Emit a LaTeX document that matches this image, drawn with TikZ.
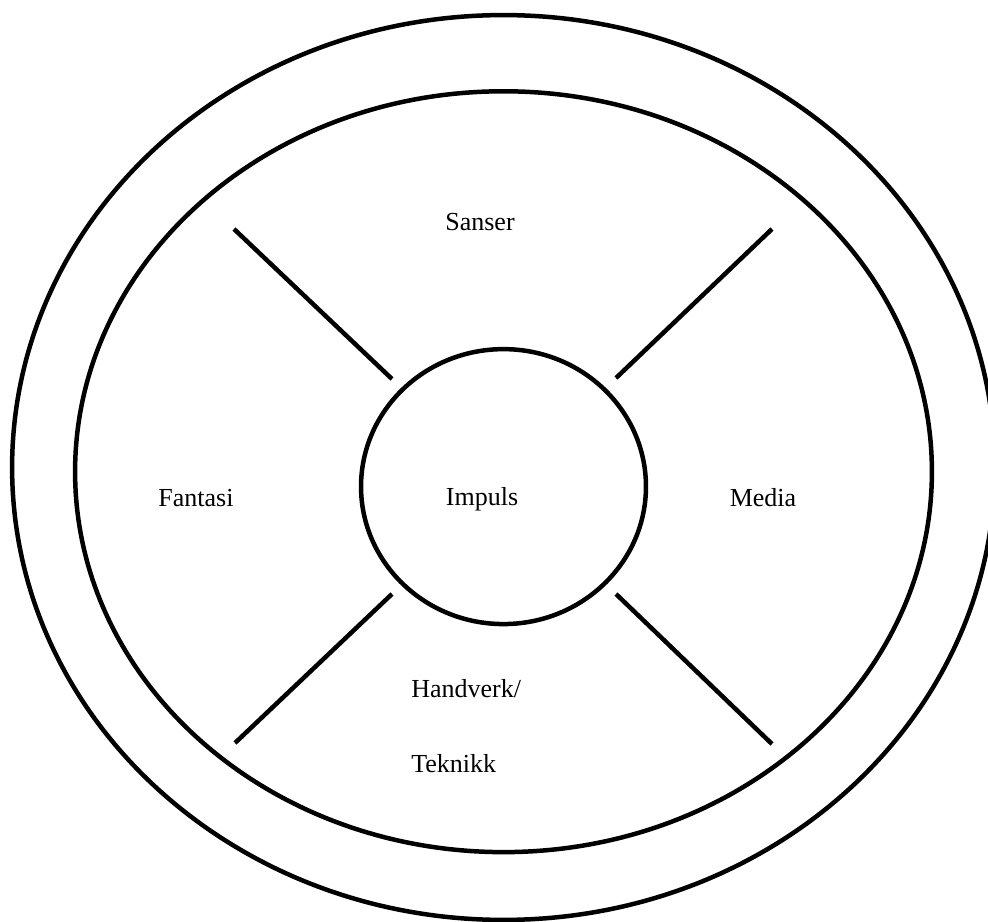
\documentclass[tikz,border=0pt]{standalone}
\usepackage{fontspec}
\setmainfont{Liberation Serif}
\usetikzlibrary{shapes.geometric,positioning}

\begin{document}
\begin{tikzpicture}[
  x=0.02cm, y=-0.02cm,
  ring/.style  = {draw, ellipse, line width=0.09cm, inner sep=0pt},
  spoke/.style = {line width=0.09cm},
  txt/.style   = {inner sep=0pt, font=\fontsize{14.8}{18}\selectfont},
]
\useasboundingbox (0,0) rectangle (988,922);
\node[ring, minimum width=19.66cm, minimum height=18.10cm] (outer) at (503.5,467.5) {};
\node[ring, minimum width=17.14cm, minimum height=15.22cm] (inner) at (503.5,471.7) {};
\node[ring, minimum width=5.70cm,  minimum height=5.50cm]  (core)  at (503.5,486.6) {};
\coordinate (ul-out) at (234,229);
\coordinate (ul-in)  at (392,379);
\coordinate (ur-out) at (772,229);
\coordinate (ur-in)  at (616,378);
\coordinate (ll-out) at (235,743);
\coordinate (ll-in)  at (392,594);
\coordinate (lr-out) at (772,744);
\coordinate (lr-in)  at (616,594);
\draw[spoke] (ul-out) -- (ul-in);
\draw[spoke] (ur-out) -- (ur-in);
\draw[spoke] (ll-out) -- (ll-in);
\draw[spoke] (lr-out) -- (lr-in);
\node[txt, anchor=base] (sanser)  at (480,231) {Sanser};
\node[txt, anchor=base] (impuls)  at (482,505) {Impuls};
\node[txt, anchor=base] (fantasi) at (196,506) {Fantasi};
\node[txt, anchor=base] (media)   at (763,506) {Media};
\node[txt, anchor=base west] (handverk) at (411,697) {Handverk/};
\node[txt, below=1.52cm of handverk.base west, anchor=base west] (teknikk) {Teknikk};
\end{tikzpicture}
\end{document}
